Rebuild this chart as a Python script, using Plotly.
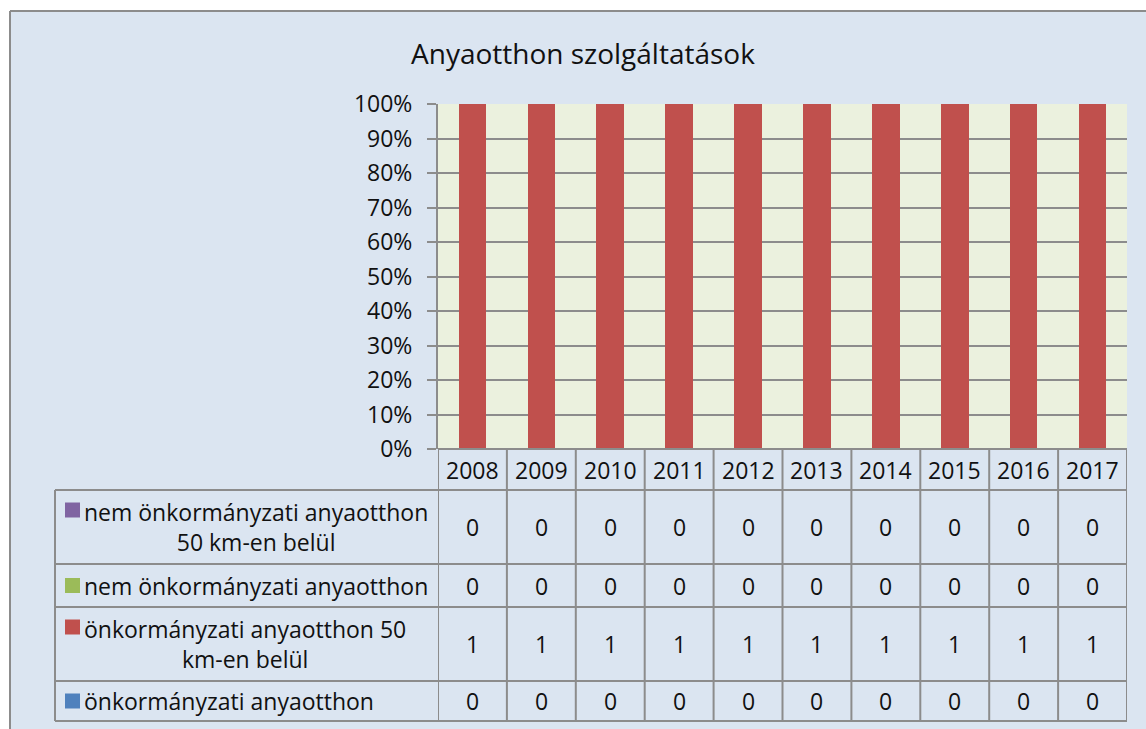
import plotly.graph_objects as go

# data
years = ["2008", "2009", "2010", "2011", "2012", "2013", "2014", "2015", "2016", "2017"]
onk = [0, 0, 0, 0, 0, 0, 0, 0, 0, 0]
onk_50km = [1, 1, 1, 1, 1, 1, 1, 1, 1, 1]
nem_onk = [0, 0, 0, 0, 0, 0, 0, 0, 0, 0]
nem_onk_50km = [0, 0, 0, 0, 0, 0, 0, 0, 0, 0]
pct_ticks = [0, 10, 20, 30, 40, 50, 60, 70, 80, 90, 100]
pct_labels = ["0%", "10%", "20%", "30%", "40%", "50%", "60%", "70%", "80%", "90%", "100%"]

# series, bottom of the stack first
series = [
    ("önkormányzati anyaotthon", "önkormányzati anyaotthon", onk, "#4f81bd"),
    ("önkormányzati anyaotthon 50 km-en belül", "önkormányzati anyaotthon 50<br>km-en belül", onk_50km, "#c0504d"),
    ("nem önkormányzati anyaotthon", "nem önkormányzati anyaotthon", nem_onk, "#9bbb59"),
    ("nem önkormányzati anyaotthon 50 km-en belül", "nem önkormányzati anyaotthon<br>50 km-en belül", nem_onk_50km, "#8064a2"),
]

W, H = 1146, 729
L, R, T, B = 438, 1127, 104, 449  # plot area in pixels
FONT = "Open Sans"
GRID = "#8c8c8c"
SIZE = 23


def px_x(p):
    return (p - L) / (R - L)


def px_y(p):
    return (B - p) / (B - T)


fig = go.Figure()
for name, _, vals, color in series:
    fig.add_trace(go.Bar(x=years, y=vals, name=name, marker_color=color,
                         marker_line_width=0, width=0.4))

shapes = []
annotations = []

# white margin outside the chart area and its border
shapes.append(dict(type="rect", xref="paper", yref="paper", x0=px_x(-5), x1=px_x(10),
                   y0=px_y(-5), y1=px_y(740), fillcolor="white", line_width=0, layer="below"))
shapes.append(dict(type="rect", xref="paper", yref="paper", x0=px_x(-5), x1=px_x(W + 5),
                   y0=px_y(-5), y1=px_y(11), fillcolor="white", line_width=0, layer="below"))
shapes.append(dict(type="line", xref="paper", yref="paper", x0=px_x(10), x1=px_x(10),
                   y0=px_y(11), y1=px_y(H + 5), line=dict(color="#8c8c8c", width=2)))
shapes.append(dict(type="line", xref="paper", yref="paper", x0=px_x(10), x1=px_x(W + 5),
                   y0=px_y(11), y1=px_y(11), line=dict(color="#8c8c8c", width=2)))

# data table
row_edges = [490, 564, 607, 681, 721]
tl = dict(color=GRID, width=2)
for i in range(len(years) + 1):
    shapes.append(dict(type="line", xref="x", yref="paper", x0=i - 0.5, x1=i - 0.5,
                       y0=px_y(449), y1=px_y(row_edges[-1]), line=tl))
shapes.append(dict(type="line", xref="paper", yref="paper", x0=px_x(55), x1=px_x(55),
                   y0=px_y(row_edges[0]), y1=px_y(row_edges[-1]), line=tl))
for e in row_edges:
    shapes.append(dict(type="line", xref="paper", yref="paper", x0=px_x(55), x1=1,
                       y0=px_y(e), y1=px_y(e), line=tl))
shapes.append(dict(type="line", xref="paper", yref="paper", x0=0, x1=1,
                   y0=0, y1=0, line=tl))

txt = dict(family=FONT, size=SIZE, color="#111111")
for i, yr in enumerate(years):
    annotations.append(dict(xref="x", yref="paper", x=i, y=px_y(469.5), text=yr,
                            showarrow=False, font=txt, xanchor="center", yanchor="middle"))

# table rows top to bottom: reverse of the stack
for r, (name, label, vals, color) in enumerate(reversed(series)):
    top, bot = row_edges[r], row_edges[r + 1]
    mid = (top + bot) / 2
    two_lines = "<br>" in label
    key_y = top + 20 if two_lines else mid
    shapes.append(dict(type="rect", xref="paper", yref="paper",
                       x0=px_x(65), x1=px_x(80), y0=px_y(key_y - 7.5), y1=px_y(key_y + 7.5),
                       fillcolor=color, line_width=0))
    annotations.append(dict(xref="paper", yref="paper", x=px_x(82), y=px_y(mid), text=label,
                            showarrow=False, font=txt, xanchor="left", yanchor="middle",
                            align="center"))
    for i, v in enumerate(vals):
        annotations.append(dict(xref="x", yref="paper", x=i, y=px_y(mid), text=str(v),
                                showarrow=False, font=txt, xanchor="center", yanchor="middle"))

annotations.append(dict(xref="paper", yref="paper", x=px_x(583), y=px_y(53),
                        text="Anyaotthon szolgáltatások", showarrow=False,
                        font=dict(family=FONT, size=28, color="#111111"),
                        xanchor="center", yanchor="middle"))

fig.update_layout(
    width=W, height=H,
    margin=dict(l=L, r=W - R, t=T, b=H - B, pad=0),
    barmode="stack", barnorm="percent",
    paper_bgcolor="#dbe5f1", plot_bgcolor="#ebf1de",
    showlegend=False,
    shapes=shapes, annotations=annotations,
    font=dict(family=FONT, size=SIZE, color="#111111"),
)
fig.update_xaxes(range=[-0.5, 9.5], showticklabels=False, showgrid=False,
                 showline=False, ticks="", fixedrange=True)
fig.update_yaxes(range=[0, 100], tickmode="array", tickvals=pct_ticks, ticktext=pct_labels,
                 showgrid=True, gridcolor=GRID, gridwidth=2,
                 showline=True, linecolor=GRID, linewidth=2,
                 ticks="outside", ticklen=9, tickcolor=GRID, tickwidth=2,
                 ticklabelstandoff=10, zeroline=False,
                 tickfont=dict(family=FONT, size=SIZE, color="#111111"))

# drop the browser's default body margin so the figure sits at the page origin
fig.write_html("out.html", config={"displayModeBar": False},
               post_script="document.body.style.margin='0px';"
                           "document.body.style.overflow='hidden';")
